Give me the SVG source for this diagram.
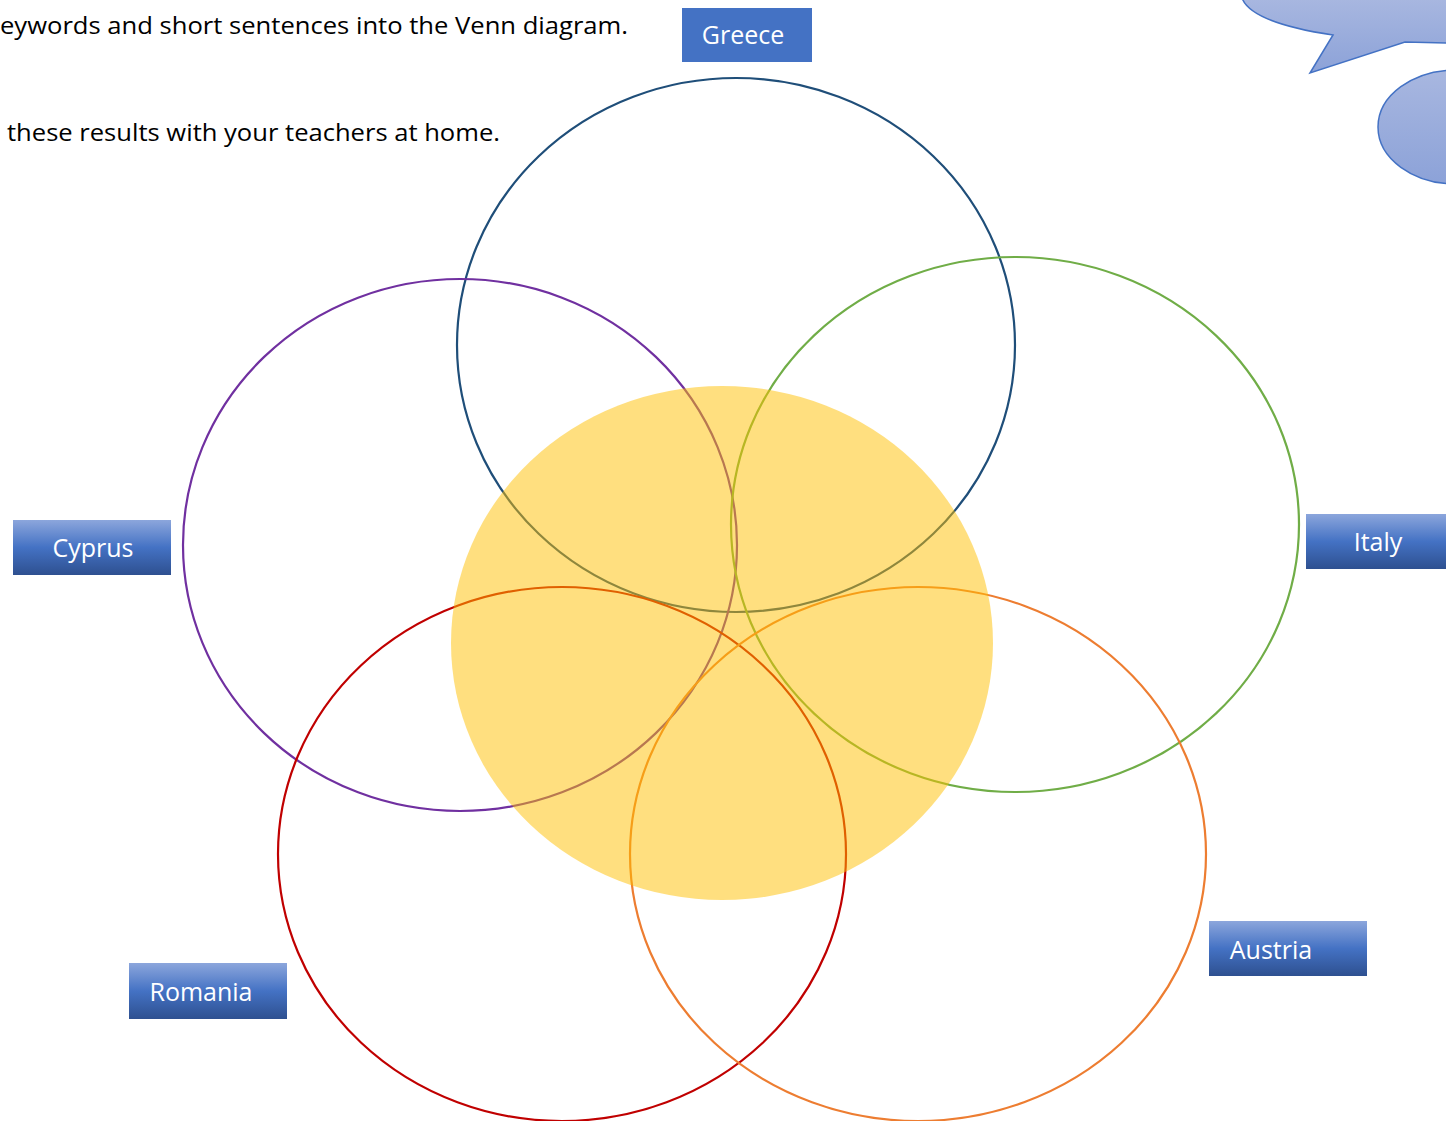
<svg xmlns="http://www.w3.org/2000/svg" width="1446" height="1121" viewBox="0 0 1446 1121">
<defs>
<linearGradient id="btn" x1="0" y1="0" x2="0" y2="1">
<stop offset="0" stop-color="#8CA6DC"/>
<stop offset="0.5" stop-color="#4472C4"/>
<stop offset="1" stop-color="#2E5090"/>
</linearGradient>
<linearGradient id="bub" x1="0" y1="0" x2="0" y2="1">
<stop offset="0" stop-color="#A8B7E0"/>
<stop offset="1" stop-color="#8CA2D8"/>
</linearGradient>
<style>
.ring{fill:none;stroke-width:2.2}
.lbl{font-family:"Open Sans","Noto Sans","Liberation Sans",sans-serif;font-size:25px;fill:#FFFFFF}
.body{font-family:"Open Sans","Noto Sans","Liberation Sans",sans-serif;font-size:24px;fill:#000000}
.bub{fill:url(#bub);stroke:#4472C4;stroke-width:1.5}
</style>
</defs>
<rect width="1446" height="1121" fill="#FFFFFF"/>
<g id="instructions">
<text class="body" x="0" y="34" textLength="628" lengthAdjust="spacingAndGlyphs">eywords and short sentences into the Venn diagram.</text>
<text class="body" x="7" y="141" textLength="493" lengthAdjust="spacingAndGlyphs">these results with your teachers at home.</text>
</g>
<g id="bubbles">
<path class="bub" d="M1242,-2 C1250,20 1300,30 1333,35 L1310,73 L1405,42 L1448,43 L1448,-2 Z"/>
<ellipse class="bub" cx="1456" cy="127" rx="78" ry="57"/>
</g>
<g id="circles">
<ellipse id="c-greece" class="ring" cx="736" cy="345" rx="279" ry="267" stroke="#1F4E79"/>
<ellipse id="c-cyprus" class="ring" cx="460" cy="545" rx="277" ry="266" stroke="#7030A0"/>
<ellipse id="c-italy" class="ring" cx="1015" cy="524.5" rx="284" ry="267.5" stroke="#70AD47"/>
<ellipse id="c-romania" class="ring" cx="562" cy="854" rx="284" ry="267" stroke="#C00000"/>
<ellipse id="c-austria" class="ring" cx="918" cy="854" rx="288" ry="267" stroke="#ED7D31"/>
<ellipse id="c-centre" cx="722" cy="643" rx="271" ry="257" fill="#FFC000" fill-opacity="0.5"/>
</g>
<g id="greece">
<rect x="682" y="8" width="130" height="54" fill="#4472C4"/>
<text class="lbl" x="743" y="44" text-anchor="middle">Greece</text>
</g>
<g id="cyprus">
<rect x="13" y="520" width="158" height="55" fill="url(#btn)"/>
<text class="lbl" x="93" y="557" text-anchor="middle">Cyprus</text>
</g>
<g id="italy">
<rect x="1306" y="514" width="142" height="55" fill="url(#btn)"/>
<text class="lbl" x="1378" y="551" text-anchor="middle">Italy</text>
</g>
<g id="romania">
<rect x="129" y="963" width="158" height="56" fill="url(#btn)"/>
<text class="lbl" x="201" y="1001" text-anchor="middle">Romania</text>
</g>
<g id="austria">
<rect x="1209" y="921" width="158" height="55" fill="url(#btn)"/>
<text class="lbl" x="1271" y="959" text-anchor="middle">Austria</text>
</g>
</svg>
